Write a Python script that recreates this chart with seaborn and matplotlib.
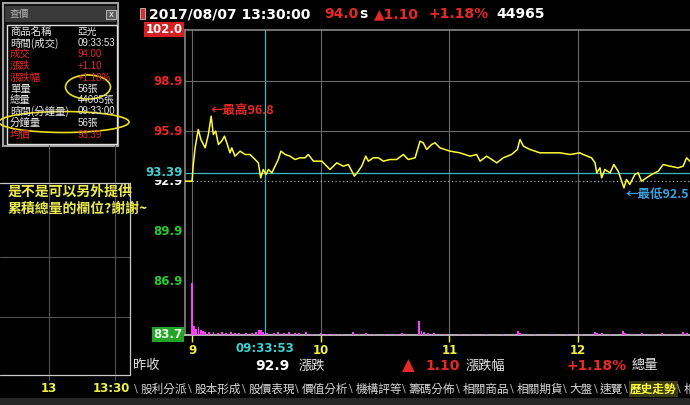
import matplotlib.pyplot as plt
import seaborn as sns
from matplotlib.patches import Rectangle, Ellipse
from matplotlib.transforms import blended_transform_factory

# price line: minutes after 09:00 and last price
minutes = [-3.3, 0.0, 0.5, 1.4, 2.9, 4.1, 6.1, 7.6, 8.9, 9.9,
           11.0, 12.3, 13.8, 15.1, 16.2, 17.7, 18.5, 20.0, 22.4, 24.7,
           27.0, 29.4, 30.9, 32.0, 33.2, 34.5, 35.6, 37.2, 38.7, 40.2,
           41.4, 43.4, 45.7, 48.0, 50.3, 52.7, 54.2, 56.6, 60.5, 64.3,
           67.5, 70.5, 72.9, 74.5, 75.7, 77.5, 79.1, 81.0, 82.2, 84.5,
           86.9, 89.2, 92.3, 95.4, 98.5, 100.8, 104.0, 106.3, 107.8, 109.4,
           111.7, 113.3, 115.6, 120.3, 124.9, 129.6, 132.7, 134.3, 137.4, 142.1,
           145.1, 149.0, 151.7, 152.9, 154.5, 157.6, 162.2, 166.9, 171.6, 176.2,
           180.9, 182.4, 186.3, 187.9, 188.7, 190.2, 191.0, 192.5, 194.9, 196.7,
           198.7, 201.4, 202.6, 204.1, 206.5, 208.0, 209.6, 211.9, 214.3, 217.4,
           219.7, 222.8, 226.7, 229.0, 230.6, 232.1]
prices = [92.9, 92.9, 93.8, 94.9, 96.0, 95.4, 94.9, 95.7, 96.8, 95.7,
          95.9, 95.1, 95.3, 95.6, 95.2, 94.6, 94.9, 94.4, 94.7, 94.5,
          94.5, 94.2, 94.0, 93.1, 93.6, 93.3, 93.6, 93.4, 93.8, 94.2,
          94.7, 94.5, 94.4, 94.2, 94.3, 94.3, 94.5, 94.1, 94.1, 93.6,
          94.0, 93.8, 93.9, 93.5, 93.2, 93.5, 93.8, 94.4, 94.1, 94.3,
          94.3, 94.1, 94.2, 94.2, 94.5, 94.2, 94.3, 95.3, 95.2, 94.8,
          95.1, 95.2, 94.9, 94.7, 94.6, 94.4, 94.5, 94.1, 94.4, 94.0,
          94.3, 94.5, 94.8, 95.4, 95.0, 94.8, 94.6, 94.6, 94.6, 94.5,
          94.6, 94.5, 94.3, 94.0, 93.4, 93.7, 93.1, 93.6, 93.4, 93.9,
          93.5, 92.5, 93.0, 92.7, 93.3, 93.4, 92.9, 93.1, 93.3, 93.5,
          93.9, 93.8, 93.7, 93.8, 94.3, 94.1]

# minute volume (lots)
vol_minutes = [0, 1, 2, 3, 4, 5, 6, 8, 10, 12,
               14, 16, 18, 20, 22, 25, 28, 30, 31, 32,
               33, 35, 38, 40, 43, 45, 48, 50, 53, 56,
               60, 63, 66, 70, 75, 78, 81, 85, 90, 95,
               98, 100, 106, 107, 108, 110, 113, 118, 125, 130,
               137, 145, 152, 153, 160, 168, 175, 182, 188, 189,
               191, 195, 201, 202, 205, 210, 215, 219, 224, 229, 231]
volumes = [520, 90, 60, 80, 50, 40, 30, 25, 30, 20,
           25, 20, 30, 20, 15, 20, 15, 30, 50, 45,
           25, 15, 15, 30, 15, 30, 15, 15, 30, 10,
           15, 10, 10, 10, 30, 10, 20, 10, 10, 10,
           20, 10, 140, 40, 25, 15, 20, 10, 10, 10,
           10, 10, 35, 20, 10, 10, 10, 10, 30, 15,
           20, 10, 40, 20, 10, 20, 10, 20, 10, 30, 15]

prev_close = 92.9
avg_price = 93.39
day_high = 96.8
day_low = 92.5
cursor_min = 33 + 53 / 60

y_labels = [102.0, 98.9, 95.9, 92.9, 89.9, 86.9, 83.7]
hour_ticks = [0, 60, 120, 180]
hour_labels = ['9', '10', '11', '12']

panel_rows = [('商品名稱', '亞光'), ('時間(成交)', '09:33:53'), ('成交', '94.00'),
              ('漲跌', '+1.10'), ('漲跌幅', '+1.18%'), ('單量', '56張'),
              ('總量', '44065張'), ('時間(分鐘量)', '09:33:00'), ('分鐘量', '56張'),
              ('均價', '93.39')]
red_rows = ['成交', '漲跌', '漲跌幅', '均價']
tabs = ['股利分派', '股本形成', '股價表現', '價值分析', '機構評等', '籌碼分佈',
        '相關商品', '相關期貨', '大盤', '速覽', '歷史走勢', '相']

RED = '#e62828'
GREEN = '#2ec82e'
CYAN = '#3cd2d2'
YEL = '#f0f040'
CJK = ['Noto Sans CJK TC', 'DejaVu Sans']

sns.set_theme(style='dark', rc={'axes.facecolor': 'black', 'figure.facecolor': 'black',
                                'axes.edgecolor': '#808080', 'text.color': 'white'})
plt.rcParams['font.family'] = ['DejaVu Sans', 'Noto Sans CJK TC']

fig = plt.figure(figsize=(6.9, 4.05), dpi=100)
L, T, B = 185, 29.5, 334.5
ax = fig.add_axes([L / 690, 1 - B / 405, 1 - L / 690, (B - T) / 405])

# grid and reference lines
for h in hour_ticks:
    ax.axvline(h, color='#6a6a6a', lw=0.8, zorder=1)
ax.axvline(cursor_min, color='#3cbcbc', lw=0.9, zorder=1)
for g in [98.9, 95.9]:
    ax.axhline(g, color='#6a6a6a', lw=0.8, zorder=1)
ax.axhline(avg_price, color='#3cbcbc', lw=0.9, zorder=1)
ax.axhline(prev_close, color='#a0a0a0', lw=0.9, ls=(0, (1, 2)), zorder=1)

sns.lineplot(x=minutes, y=prices, ax=ax, color='#ffff33', lw=1.1, estimator=None, zorder=3)

ax2 = ax.twinx()
ax2.bar(vol_minutes, volumes, width=0.9, color='#ff40ff', lw=0)
ax2.set_ylim(0, 3050)
ax2.axis('off')

ax.set_xlim(-3.3, 232.2)
ax.set_ylim(83.7, 102.0)
for s in ['left', 'top']:
    ax.spines[s].set_color('#808080')
ax.spines['bottom'].set_color('#c8c8c8')
ax.spines['right'].set_visible(False)
ax.set_yticks([])
ax.set_xticks(hour_ticks, hour_labels)
ax.tick_params(axis='x', colors=YEL, length=5, width=1, pad=2, labelsize=8.5, bottom=True)
for lbl in ax.get_xticklabels():
    lbl.set_fontweight('bold')
ax.set_xlabel('')
ax.set_ylabel('')

# y labels
ty = blended_transform_factory(ax.transAxes, ax.transData)
for v in y_labels:
    col = RED if v > 93.4 else GREEN
    if v == prev_close:
        col = 'white'
    kw = {}
    if v == 102.0:
        col = 'white'
        kw['bbox'] = dict(boxstyle='square,pad=0.12', fc='#d42020', ec='none')
    if v == 83.7:
        col = '#e8ffe8'
        kw['bbox'] = dict(boxstyle='square,pad=0.12', fc='#24a424', ec='none')
    ax.text(-0.005, v, f'{v:.1f}', transform=ty, ha='right', va='center', color=col,
            fontsize=8.5, fontweight='bold', clip_on=False, **kw)
ax.text(-0.005, avg_price, f'{avg_price:.2f}', transform=ty, ha='right', va='center',
        color=CYAN, fontsize=8.5, fontweight='bold', clip_on=False, zorder=6,
        bbox=dict(boxstyle='square,pad=0.08', fc='black', ec='none'))

tx = blended_transform_factory(ax.transData, ax.transAxes)
ax.text(cursor_min, -0.047, '09:33:53', transform=tx, ha='center', va='center',
        color=CYAN, fontsize=8.5, fontweight='bold', clip_on=False)

ax.text(8.4, 97.15, f'←最高{day_high}', color=RED, fontsize=9, family=CJK, va='center',
        fontweight='bold')
ax.text(202, 92.12, f'←最低{day_low}', color='#3aa0e0', fontsize=9, family=CJK, va='center',
        fontweight='bold')

# overlay in pixel coordinates
ov = fig.add_axes([0, 0, 1, 1], zorder=5)
ov.set_xlim(0, 690)
ov.set_ylim(405, 0)
ov.axis('off')

# header
ov.add_patch(Rectangle((140, 8), 5, 11, fc='#d03030', ec='#e0e0e0', lw=0.5))
hdr = [(149, '2017/08/07 13:30:00', 'white'), (324, '94.0', RED), (359, 's', 'white'),
       (374, '▲1.10', RED), (428, '+1.18%', RED), (496, '44965', 'white')]
for x, s, c in hdr:
    ov.text(x, 14, s, color=c, fontsize=10, fontweight='bold', va='center', ha='left')

# background panel on the left
for x in [49, 115]:
    ov.plot([x, x], [145, 380], color='#505050', lw=0.8)
for y in [257, 317]:
    ov.plot([0, 130], [y, y], color='#505050', lw=0.8)
ov.plot([0, 130, 130, 0], [183, 183, 375, 375], color='#c8c8c8', lw=0.9)
ov.text(49, 389, '13', color=YEL, fontsize=8.5, fontweight='bold', ha='center', va='center')
ov.text(130, 389, '13:30', color=YEL, fontsize=8.5, fontweight='bold', ha='right', va='center')
ov.text(8, 192, '是不是可以另外提供', color='#ecec50', fontsize=10, family=CJK, va='center',
        fontweight='bold')
ov.text(8, 209, '累積總量的欄位?謝謝~', color='#ecec50', fontsize=10, family=CJK, va='center',
        fontweight='bold')

# quote window
ov.add_patch(Rectangle((3, 3), 115, 143, fc='#101010', ec='#a0a0a0', lw=1.5))
ov.add_patch(Rectangle((5, 6), 111, 16, fc='#3a3a3a', ec='none'))
ov.text(10, 14, '查價', color='#b0b0b0', fontsize=7, family=CJK, va='center')
ov.add_patch(Rectangle((106, 10), 10, 9, fc='#5a5a5a', ec='#c8c8c8', lw=0.6))
ov.text(111, 14.5, 'x', color='white', fontsize=6, ha='center', va='center')
ov.add_patch(Rectangle((7, 25), 110, 119, fc='black', ec='#e0e0e0', lw=1))
row_y = [32, 43, 54, 66, 78, 89, 100, 111, 123, 135]
for (lab, val), y in zip(panel_rows, row_y):
    c = RED if lab in red_rows else '#e8e8e8'
    ov.text(10, y, lab, color=c, fontsize=7.5, family=CJK, va='center')
    ov.text(78, y, val, color=c, fontsize=7, family=['Liberation Sans', 'Noto Sans CJK TC'],
            va='center')
ov.add_patch(Ellipse((88, 87), 45, 24, fill=False, ec='#e8e020', lw=1.2))
ov.add_patch(Ellipse((64, 122), 130, 21, fill=False, ec='#e8e020', lw=1.2))

# info row under chart
yi = 366
ov.text(133, yi, '昨收', color='#e8e8e8', fontsize=9.5, family=CJK, va='center')
ov.text(290, yi, f'{prev_close}', color='white', fontsize=10, fontweight='bold', ha='right', va='center')
ov.text(299, yi, '漲跌', color='#e8e8e8', fontsize=9.5, family=CJK, va='center')
ov.text(408, yi, '▲', color=RED, fontsize=12, ha='center', va='center')
ov.text(425, yi, '1.10', color=RED, fontsize=10, fontweight='bold', va='center')
ov.text(466, yi, '漲跌幅', color='#e8e8e8', fontsize=9.5, family=CJK, va='center')
ov.text(566, yi, '+1.18%', color=RED, fontsize=10, fontweight='bold', va='center')
ov.text(632, yi, '總量', color='#e8e8e8', fontsize=9.5, family=CJK, va='center')

# tab strip
x = 141
for t in tabs:
    ov.text(x - 6.5, 389, '\\', color='#b0b0b0', fontsize=8, va='center')
    if t == '歷史走勢':
        ov.text(x, 389, t, color='#ffff40', fontsize=8.4, family=CJK, va='center',
                fontweight='bold', bbox=dict(boxstyle='square,pad=0.1', fc='#3a3a12', ec='none'))
    else:
        ov.text(x, 389, t, color='#d8d8d8', fontsize=8.4, family=CJK, va='center')
    x += len(t) * 11.7 + 6.8
ov.add_patch(Rectangle((0, 398), 690, 7, fc='#262626', ec='none'))

fig.savefig('out.png', dpi=100, facecolor='black')
